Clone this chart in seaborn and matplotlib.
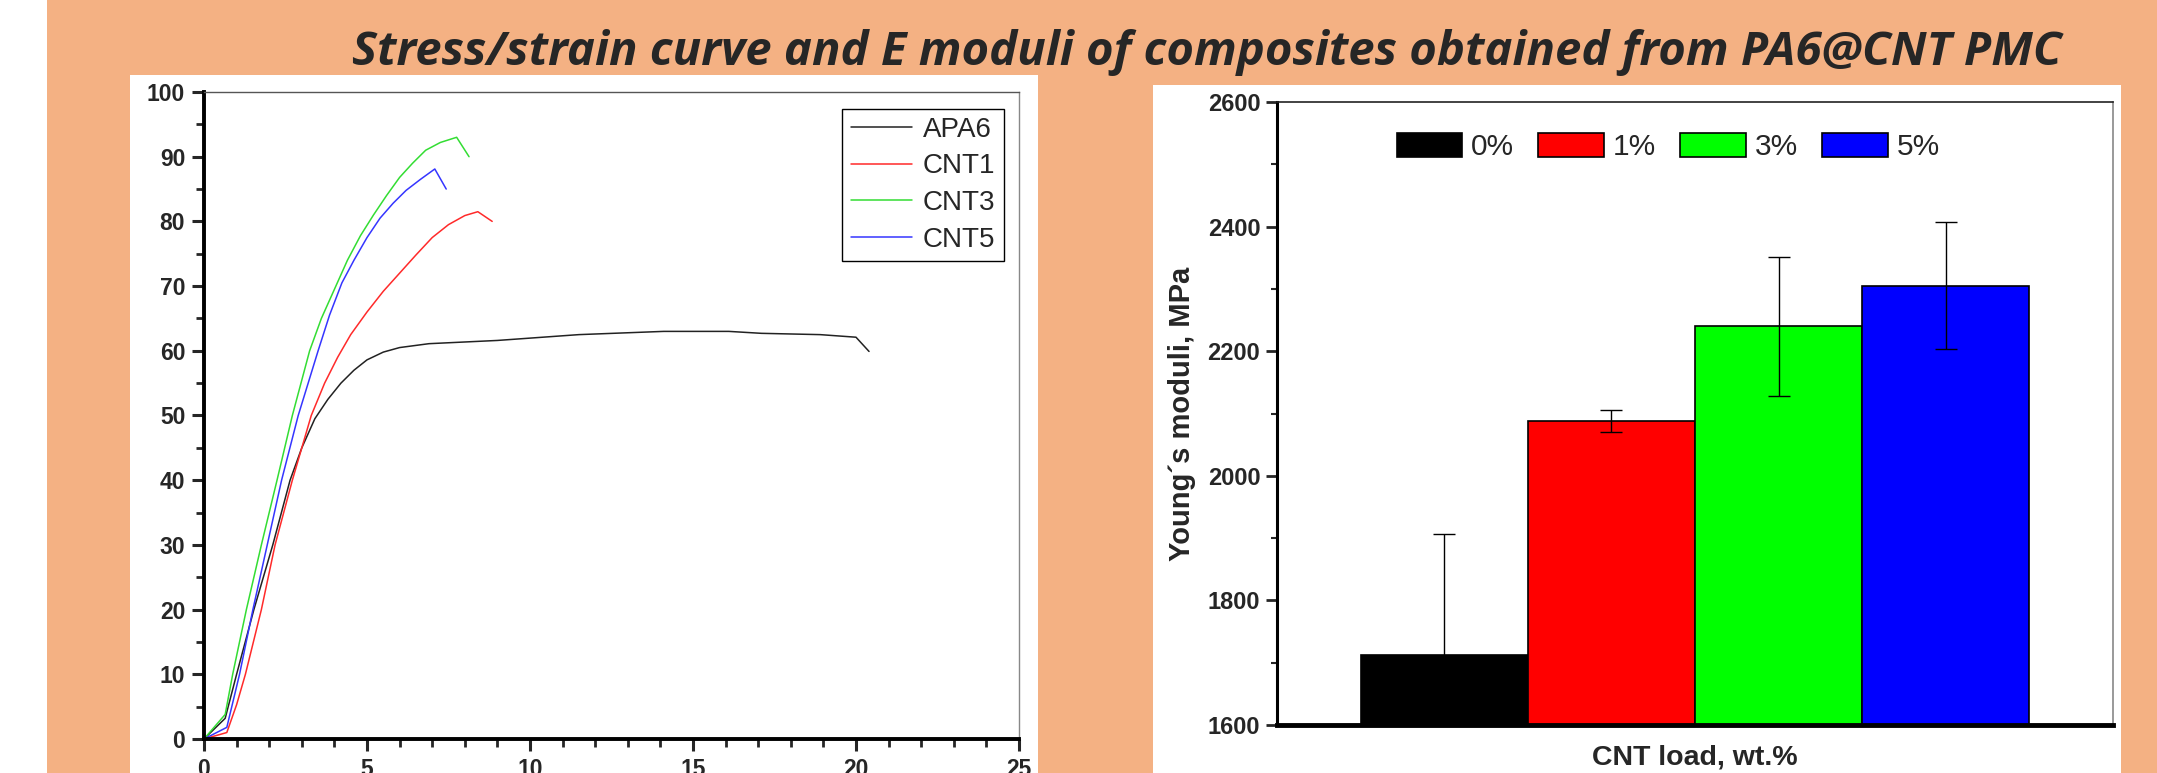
import matplotlib
matplotlib.use('Agg')
import matplotlib.pyplot as plt
import matplotlib.patches as mpatches
from matplotlib.ticker import MultipleLocator
import numpy as np
import pandas as pd
import seaborn as sns

# stress/strain curves
apa6_strain = [0, 0.65, 1.0, 1.53, 2.11, 2.64, 3.0, 3.4, 3.8, 4.2, 4.6, 5.0, 5.5, 6.0, 6.9, 9.0, 11.5, 14.1, 16.1, 17.1, 18.9, 20.0, 20.4]
apa6_stress = [0, 3.2, 10, 20, 30, 40, 45, 49.5, 52.5, 55.0, 57.0, 58.6, 59.8, 60.5, 61.1, 61.6, 62.5, 63.0, 63.0, 62.7, 62.5, 62.1, 59.9]

cnt1_strain = [0, 0.7, 1.0, 1.27, 1.76, 2.18, 2.71, 3.29, 3.7, 4.1, 4.5, 5.0, 5.5, 6.0, 6.5, 7.0, 7.5, 8.0, 8.4, 8.84]
cnt1_stress = [0, 1.0, 5.3, 10, 20, 30, 40, 50, 55.0, 59.0, 62.5, 66.0, 69.2, 72.0, 74.8, 77.5, 79.5, 80.9, 81.5, 80.0]

cnt3_strain = [0, 0.65, 0.88, 1.3, 1.76, 2.24, 2.71, 3.24, 3.6, 4.0, 4.4, 4.8, 5.2, 5.6, 6.0, 6.4, 6.8, 7.25, 7.75, 8.13]
cnt3_stress = [0, 3.8, 10, 20, 30, 40, 50, 60, 65.0, 69.5, 74.0, 77.8, 81.0, 84.0, 86.8, 89.0, 91.0, 92.2, 93.0, 90.0]

cnt5_strain = [0, 0.7, 1.09, 1.5, 1.94, 2.38, 2.89, 3.5, 3.85, 4.23, 4.6, 5.0, 5.4, 5.8, 6.2, 6.64, 7.08, 7.43]
cnt5_stress = [0, 1.8, 10, 20, 30, 40, 50, 60, 65.5, 70.5, 74.0, 77.5, 80.5, 82.8, 84.8, 86.5, 88.1, 85.0]

curve_names = ['APA6', 'CNT1', 'CNT3', 'CNT5']
curve_colors = ['#222222', '#ff2a2a', '#33dd33', '#3535ff']

# Young's moduli
loads = ['0%', '1%', '3%', '5%']
moduli = [1712, 2088, 2240, 2305]
moduli_err = [194, 18, 112, 102]
bar_colors = ['#000000', '#ff0000', '#00ff00', '#0000ff']

title = 'Stress/strain curve and E moduli of composites obtained from PA6@CNT PMC'

sns.set_style('ticks')
plt.rcParams['font.family'] = ['Liberation Sans', 'DejaVu Sans']

W, H = 2157, 773
fig = plt.figure(figsize=(W / 100, H / 100), dpi=100)

# background: white strip, orange slide, white chart boxes
orange = '#f4b183'
fig.patches.append(mpatches.Rectangle((47 / W, 0), 1 - 47 / W, 1, transform=fig.transFigure,
                                      facecolor=orange, edgecolor='none', zorder=-10))
fig.patches.append(mpatches.Rectangle((130 / W, 0), (1038 - 130) / W, (H - 75) / H, transform=fig.transFigure,
                                      facecolor='white', edgecolor='none', zorder=-9))
fig.patches.append(mpatches.Rectangle((1153 / W, 0), (2121 - 1153) / W, (H - 85) / H, transform=fig.transFigure,
                                      facecolor='white', edgecolor='none', zorder=-9))

fig.text(1207 / W, 1 - 52 / H, title, ha='center', va='center', fontsize=34,
         fontweight='bold', fontstyle='italic', family=['Open Sans', 'DejaVu Sans'])

# ---- left: stress/strain curves
ax1 = fig.add_axes([204 / W, (H - 739) / H, (1019 - 204) / W, (739 - 92) / H])
frames = []
for name, xs, ys in zip(curve_names,
                        [apa6_strain, cnt1_strain, cnt3_strain, cnt5_strain],
                        [apa6_stress, cnt1_stress, cnt3_stress, cnt5_stress]):
    frames.append(pd.DataFrame({'strain': xs, 'stress': ys, 'sample': name}))
df = pd.concat(frames, ignore_index=True)
sns.lineplot(data=df, x='strain', y='stress', hue='sample', palette=curve_colors,
             sort=False, estimator=None, linewidth=1.1, ax=ax1)
ax1.set_xlim(0, 25)
ax1.set_ylim(0, 100)
ax1.set_xlabel('')
ax1.set_ylabel('')
ax1.xaxis.set_major_locator(MultipleLocator(5))
ax1.xaxis.set_minor_locator(MultipleLocator(1))
ax1.yaxis.set_major_locator(MultipleLocator(10))
ax1.yaxis.set_minor_locator(MultipleLocator(5))
for s in ['left', 'bottom']:
    ax1.spines[s].set_linewidth(2.8)
    ax1.spines[s].set_color('black')
ax1.spines['top'].set_linewidth(1.0)
ax1.spines['top'].set_color('#555555')
ax1.spines['right'].set_linewidth(1.0)
ax1.spines['right'].set_color('#888888')
ax1.tick_params(which='major', direction='out', length=8.5, width=2.2, pad=5, labelsize=16.5)
ax1.tick_params(which='minor', direction='out', length=5.5, width=2.0)
for lab in ax1.get_xticklabels() + ax1.get_yticklabels():
    lab.set_fontweight('bold')
leg1 = ax1.legend(loc='upper right', bbox_to_anchor=(0.988, 0.983), fontsize=20,
                  handlelength=2.2, handletextpad=0.4, labelspacing=0.38,
                  borderpad=0.3, borderaxespad=0.2, fancybox=False, framealpha=1,
                  edgecolor='black')
leg1.get_frame().set_linewidth(1.0)

# ---- right: Young's moduli bars
ax2 = fig.add_axes([1277 / W, (H - 725) / H, (2113 - 1277) / W, (725 - 102) / H])
sns.barplot(x=loads, y=moduli, hue=loads, palette=bar_colors, width=1.0, saturation=1,
            edgecolor='black', linewidth=1.2, errorbar=None, legend=False, ax=ax2)
ax2.errorbar(np.arange(len(loads)), moduli, yerr=moduli_err, fmt='none',
             ecolor='black', elinewidth=1.0, capsize=8, capthick=1.0, zorder=5)
ax2.set_xlim(-1.0, 4.0)
ax2.set_ylim(1600, 2600)
ax2.yaxis.set_major_locator(MultipleLocator(200))
ax2.yaxis.set_minor_locator(MultipleLocator(100))
ax2.set_xticks([])
ax2.spines['left'].set_linewidth(2.2)
ax2.spines['bottom'].set_linewidth(3.5)
ax2.spines['left'].set_color('black')
ax2.spines['bottom'].set_color('black')
ax2.spines['top'].set_linewidth(1.2)
ax2.spines['top'].set_color('#222222')
ax2.spines['right'].set_linewidth(1.2)
ax2.spines['right'].set_color('#888888')
ax2.tick_params(axis='y', which='major', direction='out', length=8, width=2.0, pad=4, labelsize=17)
ax2.tick_params(axis='y', which='minor', direction='out', length=4, width=1.5)
for lab in ax2.get_yticklabels():
    lab.set_fontweight('bold')
ax2.set_ylabel('Young´s moduli, MPa', fontsize=21, fontweight='bold', labelpad=8)
ax2.set_xlabel('CNT load, wt.%', fontsize=20.5, fontweight='bold', labelpad=14)
handles = [mpatches.Patch(facecolor=c, edgecolor='black', linewidth=1.2) for c in bar_colors]
ax2.legend(handles, loads, loc='upper center', bbox_to_anchor=(0.468, 0.993), ncol=4,
           frameon=False, fontsize=21.5, handlelength=2.2, handleheight=0.85,
           handletextpad=0.3, columnspacing=0.8)

fig.savefig('out.png', dpi=100)
